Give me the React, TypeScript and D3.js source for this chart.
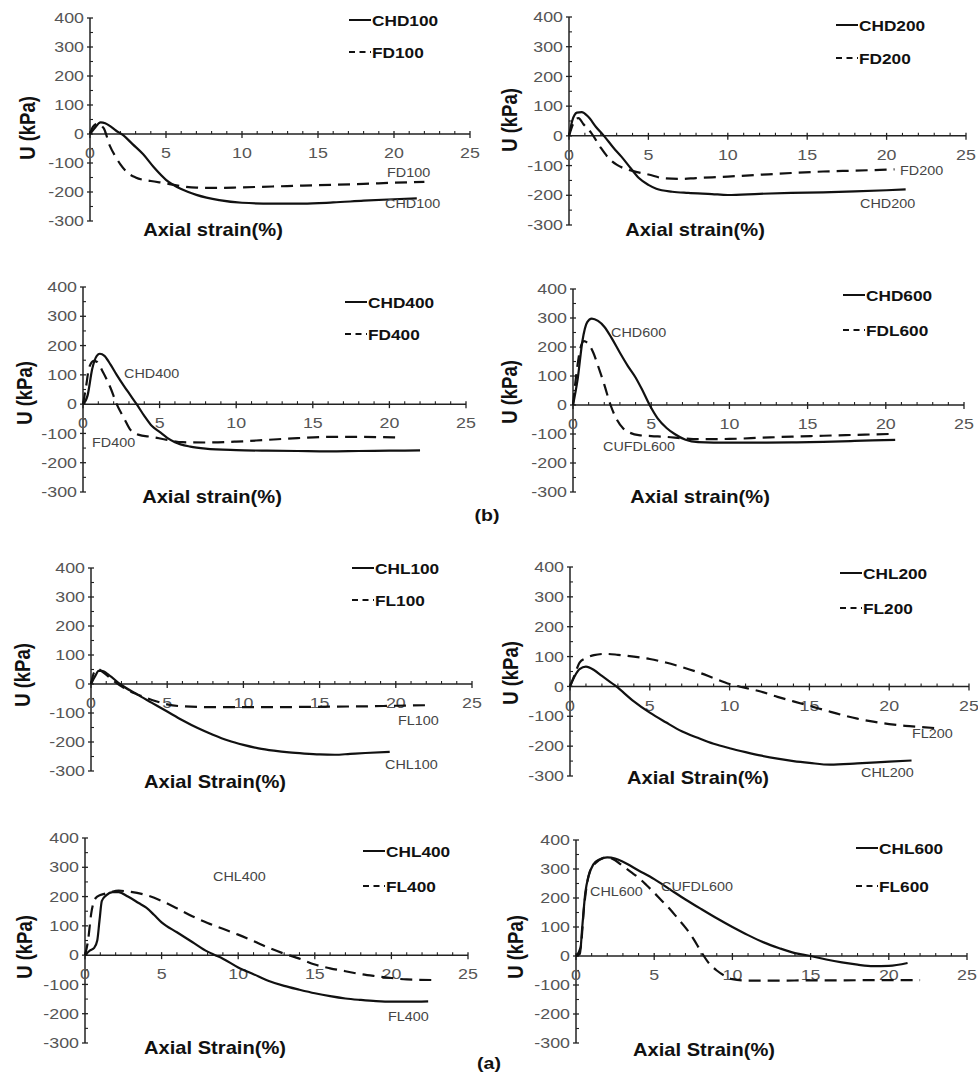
import React from "react";
import * as d3 from "d3";

type Pt = [number, number];

const W = 978;
const H = 1074;

const xTickValues = [0, 5, 10, 15, 20, 25];
const yTickValues = [-300, -200, -100, 0, 100, 200, 300, 400];

// (b) drained series
const chd100: Pt[] = [[0, 0], [0.3, 20], [0.7, 40], [1.0, 37], [1.3, 28], [1.7, 12], [2.2, -5], [2.8, -35], [3.5, -70], [4.2, -115], [5, -158], [6, -190], [7, -210], [8.5, -228], [10, -237], [12, -240], [14, -240], [16, -236], [18, -230], [20, -225], [21.5, -222]];
const fd100: Pt[] = [[0, 0], [0.2, 25], [0.5, 35], [0.9, 20], [1.3, -40], [1.7, -80], [2, -105], [2.5, -135], [3, -150], [4, -162], [5, -170], [6, -180], [7, -185], [8, -186], [10, -184], [12, -181], [14, -178], [16, -175], [18, -172], [20, -168], [22, -165]];
const chd200: Pt[] = [[0, 0], [0.2, 50], [0.5, 78], [0.8, 80], [1.2, 65], [1.7, 30], [2.2, 0], [2.8, -40], [3.3, -70], [3.9, -110], [4.4, -142], [5, -165], [5.5, -178], [6.5, -188], [7.5, -192], [9, -196], [10, -199], [12, -195], [14, -192], [16, -190], [18, -187], [20, -183], [21.2, -180]];
const fd200: Pt[] = [[0, 0], [0.3, 45], [0.6, 60], [0.9, 40], [1.4, 10], [2, -40], [2.5, -75], [3, -97], [3.5, -110], [4, -118], [5, -130], [6, -143], [7, -145], [8, -142], [10, -137], [12, -131], [14, -125], [16, -120], [18, -117], [20.5, -113]];
const chd400: Pt[] = [[0, 0], [0.3, 30], [0.6, 120], [0.9, 165], [1.1, 172], [1.4, 165], [1.8, 135], [2.2, 100], [2.7, 60], [3.1, 30], [3.5, 0], [4, -40], [4.5, -75], [5, -95], [5.5, -115], [6, -130], [7, -145], [8, -152], [10, -157], [12, -159], [14, -160], [16, -161], [18, -160], [20, -159], [22, -158]];
const fd400: Pt[] = [[0, 0], [0.2, 60], [0.4, 125], [0.7, 148], [0.9, 145], [1.3, 110], [1.8, 55], [2.2, 0], [2.7, -50], [3.1, -88], [3.6, -104], [4.5, -112], [5.5, -122], [6.5, -130], [8, -131], [10, -128], [12, -122], [14, -116], [16, -112], [18, -112], [20.6, -114]];
const chd600: Pt[] = [[0, 0], [0.3, 90], [0.6, 220], [0.9, 285], [1.2, 298], [1.6, 290], [2, 270], [2.5, 228], [3, 180], [3.5, 135], [4, 95], [4.4, 55], [4.9, 0], [5.4, -45], [6, -80], [6.5, -100], [7.2, -120], [8, -128], [10, -130], [12, -130], [14, -129], [16, -127], [18, -124], [20.6, -120]];
const fdl600: Pt[] = [[0, 0], [0.2, 100], [0.45, 190], [0.7, 220], [1, 210], [1.3, 180], [1.6, 135], [2, 70], [2.4, 0], [2.8, -50], [3.2, -80], [3.7, -97], [4.2, -104], [5, -107], [6, -110], [7, -115], [8, -118], [10, -117], [12, -113], [14, -109], [16, -106], [18, -103], [20.2, -100]];

// (a) loose series
const chl100: Pt[] = [[0, 0], [0.3, 30], [0.5, 45], [0.7, 45], [1.2, 30], [1.9, 0], [3, -35], [4, -65], [5, -95], [6, -125], [7, -152], [8, -175], [9, -195], [10, -210], [11, -222], [12, -230], [13, -236], [14, -240], [15, -243], [16, -244], [17, -241], [18, -238], [19.6, -234]];
const fl100: Pt[] = [[0, 0], [0.2, 40], [0.45, 52], [0.8, 40], [1.5, 10], [2.2, -15], [3, -35], [4, -55], [5, -70], [6, -77], [8, -80], [10, -80], [12, -80], [14, -79], [16, -78], [18, -77], [20, -75], [22.2, -73]];
const chl200: Pt[] = [[0, 0], [0.3, 35], [0.6, 58], [1, 66], [1.5, 55], [2, 35], [2.9, 0], [4, -50], [5, -88], [6, -120], [7, -150], [8, -172], [9, -192], [10, -207], [11, -220], [12, -232], [13, -242], [14, -250], [15, -256], [16.3, -262], [18, -258], [20, -252], [21.4, -248]];
const fl200: Pt[] = [[0, 0], [0.3, 40], [0.6, 80], [1, 95], [1.5, 105], [2.2, 109], [3, 106], [4, 100], [5, 92], [6, 80], [7, 65], [8, 48], [9, 28], [10, 8], [11, -5], [12, -18], [13, -35], [14, -50], [15, -65], [16, -80], [17, -95], [18, -108], [19, -118], [20, -126], [21, -132], [22, -136], [23, -140]];
const chl400: Pt[] = [[0, 0], [0.3, 15], [0.6, 25], [0.8, 50], [0.95, 120], [1.1, 185], [1.4, 205], [1.8, 215], [2.2, 215], [2.8, 200], [3.5, 178], [4, 162], [4.5, 138], [5, 112], [6, 78], [7, 45], [8, 12], [8.5, 0], [9, -12], [10, -42], [11, -65], [12, -88], [13, -105], [14, -118], [15, -130], [16, -140], [17, -148], [18, -153], [19, -157], [20, -159], [21, -159], [22.4, -158]];
const fl400: Pt[] = [[0, 0], [0.2, 50], [0.4, 140], [0.7, 195], [1, 205], [1.5, 212], [2.2, 220], [3, 216], [4, 205], [5, 185], [6, 160], [7, 133], [8, 110], [9, 90], [10, 70], [11, 48], [12, 25], [13, 5], [14, -12], [15, -32], [16, -45], [17, -55], [18, -65], [19, -72], [20, -78], [21, -83], [23, -85]];
const chl600: Pt[] = [[0, 0], [0.25, 8], [0.4, 100], [0.6, 220], [0.8, 275], [1.1, 315], [1.5, 333], [2, 340], [2.5, 336], [3, 325], [4, 295], [5, 265], [6, 230], [7, 195], [8, 162], [9, 130], [10, 100], [11, 72], [12, 47], [13, 27], [14, 10], [15, 0], [16, -12], [17, -22], [18, -30], [19, -35], [20, -34], [21.2, -24]];
const fl600: Pt[] = [[0, 0], [0.3, 30], [0.5, 160], [0.8, 275], [1.2, 318], [2, 340], [2.5, 330], [3, 310], [3.5, 290], [4, 270], [4.5, 245], [5, 218], [5.5, 190], [6, 162], [6.5, 130], [7, 98], [7.5, 60], [8, 15], [8.5, -25], [9, -50], [9.5, -68], [10, -80], [11, -85], [13, -85], [15, -84], [17, -84], [19, -83], [22, -83]];

const solidSeries = [chd100, chd200, chd400, chd600, chl100, chl200, chl400, chl600];
const dashedSeries = [fd100, fd200, fd400, fdl600, fl100, fl200, fl400, fl600];
const solidNames = ["CHD100", "CHD200", "CHD400", "CHD600", "CHL100", "CHL200", "CHL400", "CHL600"];
const dashedNames = ["FD100", "FD200", "FD400", "FDL600", "FL100", "FL200", "FL400", "FL600"];
const xTitles = ["Axial strain(%)", "Axial strain(%)", "Axial strain(%)", "Axial strain(%)", "Axial Strain(%)", "Axial Strain(%)", "Axial Strain(%)", "Axial Strain(%)"];
const yTitle = "U (kPa)";
const noteTexts = [["FD100", "CHD100"], ["FD200", "CHD200"], ["CHD400", "FD400"], ["CHD600", "CUFDL600"], ["FL100", "CHL100"], ["FL200", "CHL200"], ["CHL400", "FL400"], ["CHL600", "CUFDL600"]];
const groupLabels = ["(b)", "(a)"];

// layout (pixel positions only)
const layout = [
  { l: 90, r: 470, t: 18, b: 221, leg: [349, 20, 52], yl: [28, 128], xl: [213, 230], notes: [[387, 173], [385, 204]] },
  { l: 569, r: 966, t: 17, b: 225, leg: [836, 25, 58], yl: [510, 120], xl: [695, 230], notes: [[900, 171], [860, 204]] },
  { l: 83, r: 466, t: 287, b: 492, leg: [345, 302, 334], yl: [25, 393], xl: [212, 497], notes: [[124, 374], [92, 443]] },
  { l: 573, r: 964, t: 289, b: 492, leg: [843, 295, 330], yl: [510, 392], xl: [700, 497], notes: [[611, 333], [603, 447]] },
  { l: 91, r: 472, t: 568, b: 771, leg: [352, 568, 600], yl: [23, 675], xl: [215, 782], notes: [[398, 721], [385, 765]] },
  { l: 570, r: 969, t: 567, b: 776, leg: [840, 573, 608], yl: [511, 673], xl: [698, 778], notes: [[912, 734], [861, 773]] },
  { l: 85, r: 468, t: 838, b: 1043, leg: [363, 851, 886], yl: [25, 947], xl: [215, 1048], notes: [[213, 877], [388, 1017]] },
  { l: 576, r: 967, t: 840, b: 1043, leg: [856, 848, 886], yl: [516, 947], xl: [704, 1050], notes: [[590, 892], [661, 887]] },
];
const groupPos = [[487, 515], [489, 1063]];

const SX = 1.15;
const FONT = "'Liberation Sans', Arial, sans-serif";

function T(props: { x: number; y: number; s: number; w?: string | number; fill?: string; anchor?: string; rot?: number; children: React.ReactNode }) {
  const { x, y, s, w = "normal", fill = "#111", anchor = "start", rot, children } = props;
  return (
    <text
      transform={`translate(${x},${y}) scale(${SX},1)${rot ? ` rotate(${rot})` : ""}`}
      fontSize={s}
      fontWeight={w}
      fill={fill}
      textAnchor={anchor}
      dominantBaseline="central"
      fontFamily={FONT}
    >
      {children}
    </text>
  );
}

function Panel({ i }: { i: number }) {
  const L = layout[i];
  const xs = d3.scaleLinear().domain([0, 25]).range([L.l, L.r]);
  const ys = d3.scaleLinear().domain([-300, 400]).range([L.b, L.t]);
  const line = d3
    .line<Pt>()
    .x((d) => xs(d[0]))
    .y((d) => ys(d[1]))
    .curve(d3.curveMonotoneX);
  const y0 = ys(0);
  const minorX = d3.range(0, 26, 1).filter((v) => v % 5 !== 0);
  const minorY = d3.range(-250, 400, 100);
  const axisColor = "#222";
  return (
    <g>
      {/* y axis */}
      <line x1={L.l} x2={L.l} y1={ys(400)} y2={ys(-300)} stroke={axisColor} strokeWidth={1.5} />
      {yTickValues.map((v) => (
        <line key={"yt" + v} x1={L.l - 3} x2={L.l + 3} y1={ys(v)} y2={ys(v)} stroke={axisColor} strokeWidth={1.3} />
      ))}
      {minorY.map((v) => (
        <line key={"ym" + v} x1={L.l} x2={L.l + 3} y1={ys(v)} y2={ys(v)} stroke={axisColor} strokeWidth={1.1} />
      ))}
      {yTickValues.map((v) => (
        <T key={"yl" + v} x={L.l - 6} y={ys(v)} s={15.5} fill="#555" anchor="end">
          {v}
        </T>
      ))}
      {/* x axis */}
      <line x1={xs(0)} x2={xs(25)} y1={y0} y2={y0} stroke={axisColor} strokeWidth={1.5} />
      {xTickValues.map((v) => (
        <line key={"xt" + v} x1={xs(v)} x2={xs(v)} y1={y0 - 3} y2={y0 + 4} stroke={axisColor} strokeWidth={1.3} />
      ))}
      {minorX.map((v) => (
        <line key={"xm" + v} x1={xs(v)} x2={xs(v)} y1={y0 - 3} y2={y0} stroke={axisColor} strokeWidth={1.1} />
      ))}
      {xTickValues.map((v) => (
        <T key={"xl" + v} x={xs(v)} y={y0 + 19} s={15.5} fill="#555" anchor="middle">
          {v}
        </T>
      ))}
      {/* series */}
      <path d={line(dashedSeries[i]) || ""} fill="none" stroke="#111" strokeWidth={2.2} strokeDasharray="12,7" />
      <path d={line(solidSeries[i]) || ""} fill="none" stroke="#111" strokeWidth={2.2} />
      {/* titles */}
      <T x={L.xl[0]} y={L.xl[1]} s={17.5} w="bold" anchor="middle">
        {xTitles[i]}
      </T>
      <T x={L.yl[0]} y={L.yl[1]} s={18.5} w="bold" anchor="middle" rot={-90}>
        {yTitle}
      </T>
      {/* legend */}
      <line x1={L.leg[0]} x2={L.leg[0] + 22} y1={L.leg[1]} y2={L.leg[1]} stroke="#111" strokeWidth={2} />
      <T x={L.leg[0] + 23} y={L.leg[1]} s={15} w="bold">
        {solidNames[i]}
      </T>
      <line x1={L.leg[0]} x2={L.leg[0] + 22} y1={L.leg[2]} y2={L.leg[2]} stroke="#111" strokeWidth={2} strokeDasharray="6,4.5" />
      <T x={L.leg[0] + 23} y={L.leg[2]} s={15} w="bold">
        {dashedNames[i]}
      </T>
      {/* annotations */}
      {noteTexts[i].map((txt, k) => (
        <T key={"n" + k} x={L.notes[k][0]} y={L.notes[k][1]} s={12.5} fill="#444">
          {txt}
        </T>
      ))}
    </g>
  );
}

export default function App() {
  return (
    <svg width={W} height={H} style={{ position: "absolute", left: 0, top: 0, background: "#fff" }}>
      <rect x={0} y={0} width={W} height={H} fill="#fff" />
      {layout.map((_, i) => (
        <Panel key={i} i={i} />
      ))}
      {groupLabels.map((g, k) => (
        <T key={g} x={groupPos[k][0]} y={groupPos[k][1]} s={17} w="bold" anchor="middle">
          {g}
        </T>
      ))}
    </svg>
  );
}
